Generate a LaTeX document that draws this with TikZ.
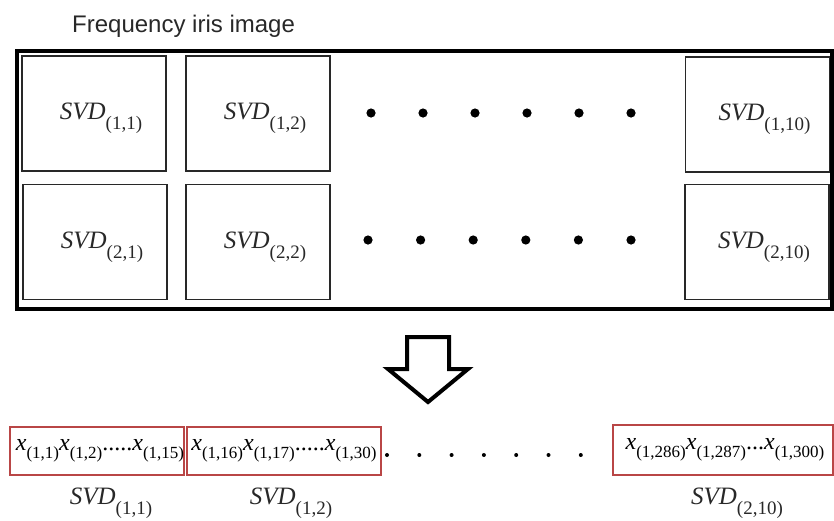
\documentclass[tikz,border=0pt]{standalone}
\usepackage{fontspec}
\setmainfont{Liberation Serif}
\newfontfamily\sansfont{Liberation Sans}
\usepackage{xcolor}
\usepackage{tikz}
\usetikzlibrary{positioning}

\definecolor{boxred}{RGB}{185,70,70}
\definecolor{inkgray}{RGB}{40,40,40}

\newcommand{\svdlab}[1]{{\fontsize{25}{25}\selectfont\itshape SVD}\raisebox{-10pt}{\fontsize{19}{19}\selectfont(#1)}}
\newcommand{\xsub}[1]{{\fontsize{24}{24}\selectfont\itshape x}\raisebox{-8pt}{\fontsize{17}{17}\selectfont(#1)}}
\newcommand{\lowdots}[1]{{\fontsize{24}{24}\selectfont#1}}

\begin{document}
\begin{tikzpicture}[x=1pt, y=-1pt,
  frame/.style={rectangle, draw=black, line width=4.5pt, minimum width=815pt,
                minimum height=258pt, inner sep=0pt},
  cell/.style={rectangle, draw=inkgray, line width=1.3pt, minimum width=144pt,
               minimum height=115pt, inner sep=0pt},
  vec/.style={rectangle, draw=boxred, line width=1.3pt, minimum height=48pt, inner sep=0pt},
  lab/.style={inner sep=0pt, text=inkgray},
  hollow/.style={draw=black, line width=4pt, line join=miter}
]
\useasboundingbox (0,0) rectangle (834,520);
\node[anchor=base west, inner sep=0pt, text=inkgray, font=\sansfont\fontsize{24}{26}\selectfont]
  (ttl) at (72,32) {Frequency iris image};
\node[frame] (img) at (424.5,180) {};
% SVD blocks of the iris image
\node[cell] (c11) at (94,113.5) {};
\node[cell] (c12) at (258,113.5) {};
\node[cell] (c110) at (757.5,114.5) {};
\node[cell] (c21) at (95,242) {};
\node[cell] (c22) at (258,242) {};
\node[cell] (c210) at (757,242) {};
\foreach \c/\t in {c11/{1,1},c12/{1,2},c110/{1,10},c21/{2,1},c22/{2,2},c210/{2,10}}
  \node[lab] at ([xshift=7pt,yshift=-5pt]\c.center) {\svdlab{\t}};
\foreach \i in {0,...,5} {
  \fill (371+52*\i,113) circle (4.6pt);
  \fill (368+52.6*\i,240) circle (4.6pt);
}
% big hollow arrow
\coordinate (arr) at (428,337);
\draw[hollow] (arr) ++(-21,0) -- ++(42,0) -- ++(0,32) -- ++(19,0) -- (428,402)
  -- (388,369) -- ++(19,0) -- cycle;
% feature vector
\node[vec, minimum width=174pt] (v1) at (97,451) {};
\node[vec, minimum width=194pt] (v2) at (284,451) {};
\node[vec, minimum width=220pt, minimum height=50pt] (v3) at (723,450) {};
\node[lab, text=black] at ([xshift=3pt]v1.center) {\xsub{1,1}\xsub{1,2}\lowdots{.....}\xsub{1,15}};
\node[lab, text=black] at (v2.center) {\xsub{1,16}\xsub{1,17}\lowdots{.....}\xsub{1,30}};
\node[lab, text=black] at ([xshift=2pt]v3.center) {\xsub{1,286}\xsub{1,287}\lowdots{...}\xsub{1,300}};
\foreach \i in {0,...,6}
  \fill (387+32.3*\i,455) circle (2pt);
\node[lab, below=12pt of v1, xshift=14pt] (s1) {\svdlab{1,1}};
\node[lab, below=12pt of v2, xshift=7pt] (s2) {\svdlab{1,2}};
\node[lab, below=12pt of v3, xshift=14pt] (s3) {\svdlab{2,10}};
\end{tikzpicture}
\end{document}
